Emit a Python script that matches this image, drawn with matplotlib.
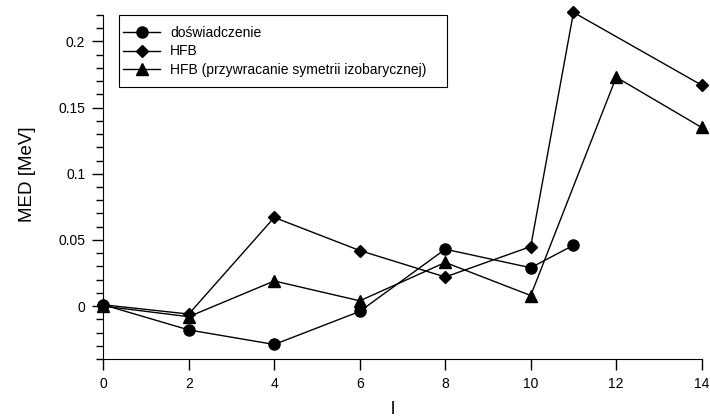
import matplotlib.pyplot as plt
import matplotlib.transforms as mtransforms
from matplotlib.patches import Rectangle
from matplotlib.ticker import MultipleLocator

plt.rcParams['font.family'] = ['Liberation Sans', 'DejaVu Sans']

# spin values (x axis) and MED values in MeV
spin = [0, 2, 4, 6, 8, 10, 11]
med_exp = [0.001, -0.018, -0.029, -0.004, 0.043, 0.029, 0.046]

spin_hfb = [0, 2, 4, 6, 8, 10, 11, 14]
med_hfb = [0.001, -0.006, 0.067, 0.042, 0.022, 0.045, 0.222, 0.167]

spin_iso = [0, 2, 4, 6, 8, 10, 12, 14]
med_iso = [0.0, -0.008, 0.019, 0.004, 0.033, 0.008, 0.173, 0.135]

labels = ['doświadczenie', 'HFB', 'HFB (przywracanie symetrii izobarycznej)']

fig = plt.figure(figsize=(7.1, 4.17), dpi=100)
ax = fig.add_axes([0.1455, 0.139, 0.8428, 0.825])

ax.plot(spin, med_exp, color='black', lw=1, marker='o', ms=8,
        label=labels[0], clip_on=False, zorder=3)
ax.plot(spin_hfb, med_hfb, color='black', lw=1, marker='D', ms=6,
        label=labels[1], clip_on=False, zorder=3)
ax.plot(spin_iso, med_iso, color='black', lw=1, marker='^', ms=8.5,
        label=labels[2], clip_on=False, zorder=3)

ax.set_xlim(0, 14)
ax.set_ylim(-0.04, 0.22)
ax.xaxis.set_major_locator(MultipleLocator(2))
ax.yaxis.set_major_locator(MultipleLocator(0.05))
ax.yaxis.set_minor_locator(MultipleLocator(0.01))
ax.yaxis.set_major_formatter(plt.FuncFormatter(lambda v, p: '%g' % round(v, 3)))

for side in ('top', 'right'):
    ax.spines[side].set_visible(False)
ax.tick_params(axis='both', which='major', length=8, width=1, labelsize=10, pad=5)
ax.tick_params(axis='y', which='minor', length=5, width=1)

# keep the last x label inside the figure
fig.canvas.draw()
last = ax.get_xticklabels()[-1]
last.set_transform(last.get_transform() +
                   mtransforms.ScaledTranslation(-5 / 100, 0, fig.dpi_scale_trans))

ax.set_xlabel('l', fontsize=13)
ax.xaxis.set_label_coords(0.483, -0.122)
ax.set_ylabel('MED [MeV]', fontsize=13.5)
ax.yaxis.set_label_coords(-0.113, 0.538)

# legend entries without frame, box drawn separately
leg = ax.legend(loc='upper left', bbox_to_anchor=(0.033, 0.968), fontsize=10,
                frameon=False, handlelength=2.66, handletextpad=0.72,
                borderpad=0, borderaxespad=0, labelspacing=0.32)
ax.add_patch(Rectangle((0.0267, 0.791), 0.547, 0.209, transform=ax.transAxes,
                       fill=False, edgecolor='black', lw=0.8, clip_on=False))

fig.savefig('out.png', dpi=100)
